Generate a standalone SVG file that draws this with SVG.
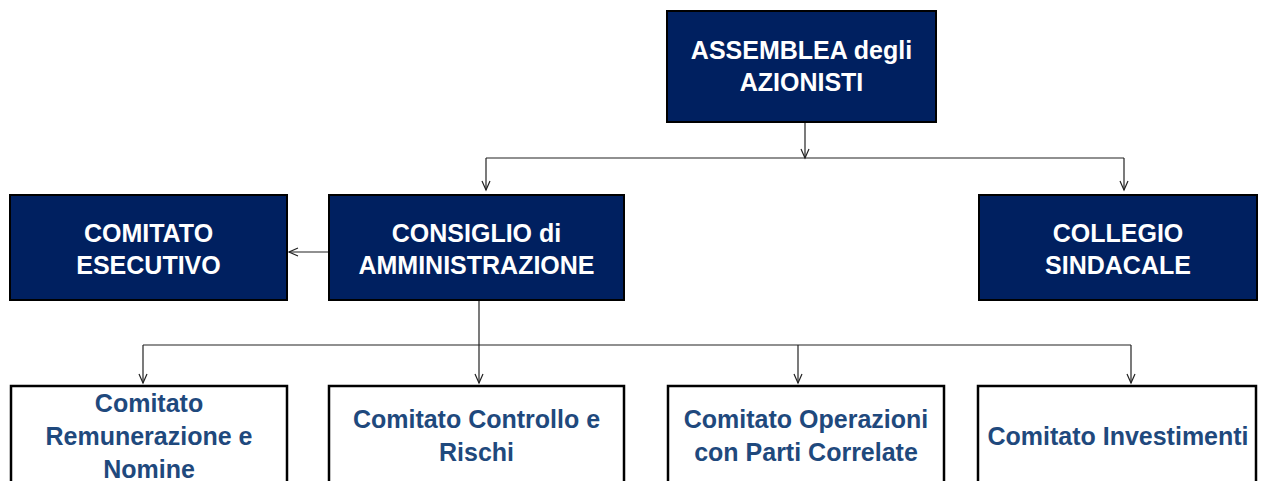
<svg xmlns="http://www.w3.org/2000/svg" width="1263" height="481" viewBox="0 0 1263 481">
<style>
.dark{fill:#002060;stroke:#000;stroke-width:2}
.light{fill:#fff;stroke:#000;stroke-width:2.5}
.wt{font-family:"Liberation Sans",Arial,sans-serif;font-weight:bold;font-size:25px;fill:#fff;text-anchor:middle}
.bt{font-family:"Liberation Sans",Arial,sans-serif;font-weight:bold;font-size:25px;fill:#1F497D;text-anchor:middle}
.ln{stroke:#222;stroke-width:1.2;fill:none}
</style>
<defs>
<marker id="ah" markerUnits="userSpaceOnUse" markerWidth="12" markerHeight="12" refX="10" refY="5" orient="auto" viewBox="0 0 12 10">
<path d="M1,1 L10,5 L1,9" fill="none" stroke="#222" stroke-width="1.2"/>
</marker>
</defs>
<rect width="1263" height="481" fill="#fff"/>
<g id="connectors">
<line class="ln" x1="805" y1="122" x2="805" y2="158" marker-end="url(#ah)"/>
<line class="ln" x1="486" y1="158" x2="1124" y2="158"/>
<line class="ln" x1="486" y1="158" x2="486" y2="190" marker-end="url(#ah)"/>
<line class="ln" x1="1124" y1="158" x2="1124" y2="190" marker-end="url(#ah)"/>
<line class="ln" x1="329" y1="252" x2="289" y2="252" marker-end="url(#ah)"/>
<line class="ln" x1="479" y1="300" x2="479" y2="383" marker-end="url(#ah)"/>
<line class="ln" x1="143" y1="345" x2="1131" y2="345"/>
<line class="ln" x1="143" y1="345" x2="143" y2="383" marker-end="url(#ah)"/>
<line class="ln" x1="798" y1="345" x2="798" y2="383" marker-end="url(#ah)"/>
<line class="ln" x1="1131" y1="345" x2="1131" y2="383" marker-end="url(#ah)"/>
</g>
<g id="assemblea">
<rect class="dark" x="667" y="11" width="269" height="111"/>
<text class="wt" x="801.5" y="59">ASSEMBLEA degli</text>
<text class="wt" x="801.5" y="91">AZIONISTI</text>
</g>
<g id="esecutivo">
<rect class="dark" x="10" y="195" width="277" height="105"/>
<text class="wt" x="148.5" y="242">COMITATO</text>
<text class="wt" x="148.5" y="274">ESECUTIVO</text>
</g>
<g id="consiglio">
<rect class="dark" x="329" y="195" width="295" height="105"/>
<text class="wt" x="476.5" y="242">CONSIGLIO di</text>
<text class="wt" x="476.5" y="274">AMMINISTRAZIONE</text>
</g>
<g id="collegio">
<rect class="dark" x="979" y="195" width="278" height="105"/>
<text class="wt" x="1118" y="242">COLLEGIO</text>
<text class="wt" x="1118" y="274">SINDACALE</text>
</g>
<g id="remunerazione">
<rect class="light" x="11" y="386" width="276" height="120"/>
<text class="bt" x="149" y="412">Comitato</text>
<text class="bt" x="149" y="445">Remunerazione e</text>
<text class="bt" x="149" y="478">Nomine</text>
</g>
<g id="controllo">
<rect class="light" x="329" y="386" width="295" height="120"/>
<text class="bt" x="476.5" y="428">Comitato Controllo e</text>
<text class="bt" x="476.5" y="461">Rischi</text>
</g>
<g id="operazioni">
<rect class="light" x="668" y="386" width="276" height="120"/>
<text class="bt" x="806" y="428">Comitato Operazioni</text>
<text class="bt" x="806" y="461">con Parti Correlate</text>
</g>
<g id="investimenti">
<rect class="light" x="978" y="386" width="278" height="120"/>
<text class="bt" x="1118" y="445">Comitato Investimenti</text>
</g>
</svg>
